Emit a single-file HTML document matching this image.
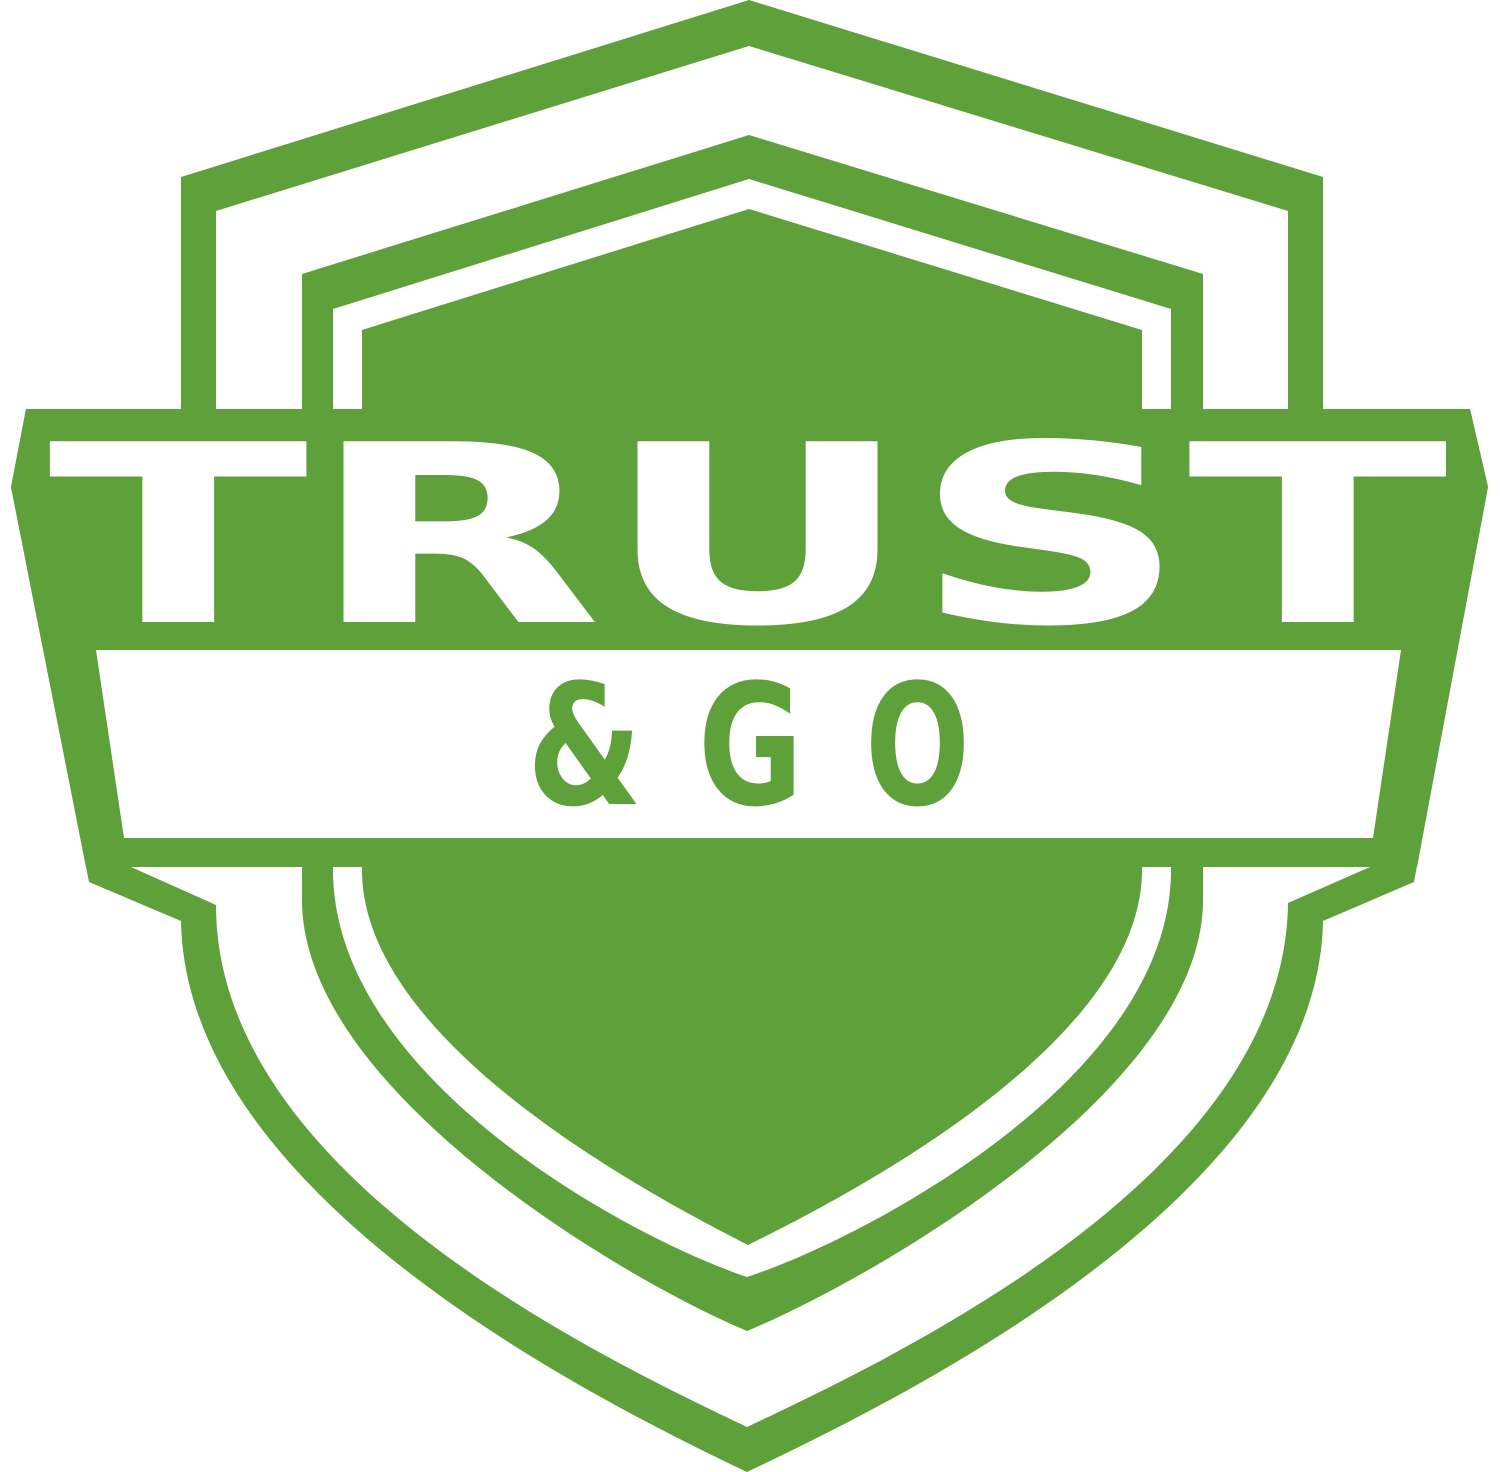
<!DOCTYPE html>
<html><head><meta charset="utf-8"><style>
html,body{margin:0;padding:0;background:#fff;}
svg{display:block;}
</style></head><body>
<svg width="1500" height="1472" viewBox="0 0 1500 1472" xmlns="http://www.w3.org/2000/svg">
<path fill="#5ea03a" d="M749,0 L1323,177 L1323,409 L1470,409 L1488,487 L1414,882 L1323,921 C1318,1190 920,1390 747,1472 C575,1390 186,1190 181,921 L89,882 L11,487 L26,409 L181,409 L181,177 Z"/>
<path fill="#fff" d="M749,46 L1288,211 L1288,867 L1370,867 L1288,903 C1285,1170 910,1350 747,1427 C585,1350 216,1170 216,905 L131,867 L216,867 L216,211 Z"/>
<path fill="#5ea03a" d="M749,135 L1203,274 L1203,900 C1203,1090 870,1280 747,1331 C625,1280 302,1090 302,900 L302,274 Z"/>
<path fill="#fff" d="M749,179 L1171,309 L1171,870 C1171,1080 860,1240 747,1277 C635,1240 333,1080 333,870 L333,309 Z"/>
<path fill="#5ea03a" d="M749,209 L1142,330 L1142,870 C1142,1040 860,1190 748,1245 C640,1190 362,1040 362,870 L362,330 Z"/>
<path fill="#5ea03a" d="M26,409 L1470,409 L1488,487 L1417,867 L86,867 L11,487 Z"/>
<text x="48" y="622" fill="#fff" font-family="'DejaVu Sans','Liberation Sans',sans-serif" font-weight="bold" font-size="248" textLength="1400" lengthAdjust="spacingAndGlyphs">TRUST</text>
<path fill="#fff" d="M96,650 L1401,650 L1373,838 L124,838 Z"/>
<g fill="#5ea03a" font-family="'DejaVu Sans','Liberation Sans',sans-serif" font-weight="bold" font-size="168">
<text x="527" y="804" textLength="115" lengthAdjust="spacingAndGlyphs">&amp;</text>
<text x="698" y="804" textLength="105" lengthAdjust="spacingAndGlyphs">G</text>
<text x="865" y="804" textLength="105" lengthAdjust="spacingAndGlyphs">O</text>
</g>
</svg>
</body></html>
